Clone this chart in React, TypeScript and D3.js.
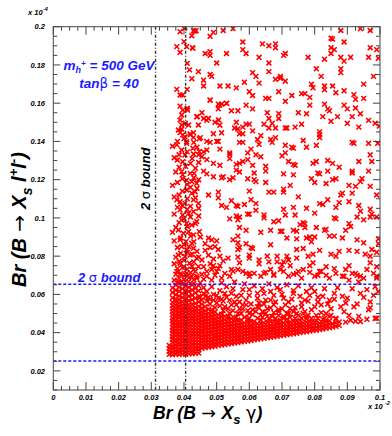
import React from 'react';
import * as d3 from 'd3';

// all values in units of 1e-3 of the printed axis numbers
const xTickValues = [0, 10, 20, 30, 40, 50, 60, 70, 80, 90, 100];
const xTickLabels = ['0', '0.01', '0.02', '0.03', '0.04', '0.05', '0.06', '0.07', '0.08', '0.09', '0.1'];
const yTickValues = [20, 40, 60, 80, 100, 120, 140, 160, 180, 200];
const yTickLabels = ['0.02', '0.04', '0.06', '0.08', '0.1', '0.12', '0.14', '0.16', '0.18', '0.2'];

// 2 sigma bounds
const boundX = [31.3, 40.5];
const boundY = [25.2, 65.3];

// left column above the dense block
const leftUpper: [number, number][] = [
  [38.8, 197.4], [40.1, 199.1], [42.9, 197.9], [43.7, 197.9], [40, 192.2], [37.8, 189.6], [38.8, 186.6],
  [40.8, 189.6], [42.7, 188.7], [41, 180.8], [41.7, 177.4], [42.4, 172.8], [44.4, 176.5], [37.8, 167.2],
  [38.8, 164.3], [39.6, 164.3], [41, 167.2], [38.8, 158.5], [39.6, 156.4], [41, 157.3], [39.3, 153.8],
  [38.8, 151.2], [39.3, 148.6], [41.4, 148.6], [44.1, 153], [44.4, 148.6], [38.3, 146], [39.6, 143.4],
  [40.3, 142.5], [41.9, 143.4], [42.9, 142.1], [40.8, 139], [44.7, 141.3], [40.4, 149.5], [39.3, 146.5],
  [41.1, 156.4], [43.9, 152.9], [42.6, 189], [42.4, 195.3], [43.2, 197.7], [40.3, 199.7],
];

const leftMid: [number, number][] = [
  [38.8, 144.6], [39.6, 143.4], [41.9, 143.9], [42.9, 144.6], [40.8, 139.9], [37.8, 138.2], [39.3, 135.5],
  [42.7, 136.4], [40.3, 132.9], [38, 130.3], [39.6, 129.4], [42.9, 133.4], [44.7, 134.7], [39.3, 124.2],
  [39.6, 122.5], [41.9, 123.3], [43.1, 123.3], [40.8, 119.8], [42.4, 119], [43.9, 118.1], [40.8, 114.6],
  [42.4, 112.9], [43.4, 113.7], [37.8, 109.4], [38.8, 108.5], [40.3, 107.6], [42.9, 109.4], [44.4, 107.6],
  [38.8, 104.2], [39.6, 101.5], [41.4, 102.4], [42.9, 103.3], [39.3, 98.9], [40.8, 97.2], [42.4, 96.3],
  [43.9, 98.1], [38.3, 93.7], [39.8, 92], [41.4, 92.8], [42.9, 91.1], [44.7, 92.8], [38.8, 88.5],
  [40.6, 87.6], [42.4, 86.7], [39.3, 85], [40.8, 83.2], [42.9, 84.1], [38.3, 80.6], [40.3, 79.8],
  [41.9, 80.6], [43.9, 78.9], [38.8, 76.3], [40, 74.5], [41.7, 76.3], [42.9, 72.8], [44.4, 74.5],
  [37.8, 71.9], [39.3, 70.2], [40.8, 71], [42.4, 69.3], [43.9, 68.4], [38.3, 66.7], [39.8, 65.8],
  [41.4, 66.7], [42.9, 65.5],
  [37, 67.5], [38.5, 68.5], [40, 67.8], [41.5, 68.7], [43, 67.6], [44, 69.5], [37.5, 70.5], [39, 71],
  [40.5, 70.2], [42, 71.4], [43.5, 72], [38, 73.5], [39.5, 74], [41, 73.2], [42.5, 74.6], [37, 76],
  [38.5, 77.2], [40, 77.8], [43, 77], [44.5, 79.5], [37.5, 79.5], [39, 81.5], [41, 82], [42.5, 81],
  [44, 82.5], [38, 84.5], [40, 86], [41.5, 85], [43, 87.5], [37, 88], [39, 89.5], [42, 90.5],
  [36.5, 92.5], [37.5, 95], [38.5, 97.5], [40, 99.5], [41, 95.5], [42, 100.5], [43.5, 97], [44.5, 101],
  [37, 102], [38, 105.5], [39.5, 106.5], [41, 104.5], [42, 106], [43.5, 110.5], [44.5, 105], [37, 111],
  [38.5, 112], [39.5, 114], [41, 110], [42, 116], [44, 115.5], [36.5, 117], [38, 118.5], [39.5, 120.5],
  [41, 117.5], [43, 121], [44.5, 120], [37.5, 124], [38.5, 126.5], [40.5, 127], [42, 128.5], [43.5, 126],
  [44.5, 129], [37, 131.5], [38.5, 133], [41, 134.5], [42.5, 131], [44, 137], [36.5, 137.5], [38, 140],
  [40, 141.5], [43, 139.5],
];

const upperScatter: [number, number][] = [
  [48, 195], [49, 197], [52, 198], [55, 199], [58, 192], [58, 188], [59, 186], [46.5, 186], [48, 187],
  [48, 185], [53, 186], [50, 181], [64, 191], [66, 190], [68, 191], [68, 189], [63, 184], [66, 181],
  [70.5, 185], [71, 186], [78, 184], [85, 194], [85.5, 193.5], [89, 192], [88, 198], [94, 199], [97, 198],
  [85, 189], [86, 188], [85, 186], [83, 183], [88, 184], [89, 182], [91, 184], [96.5, 184], [97, 189],
  [99, 188], [99.5, 183.5], [80.5, 178], [82, 174], [88, 178], [88, 176], [98, 174], [95, 170], [48, 175],
  [48.5, 174], [46, 172], [46, 169], [51, 169], [53.5, 169], [56, 168], [58.5, 171], [61, 176], [62, 174],
  [63, 170.5], [66, 176.5], [68, 172.5], [69.5, 174], [69.5, 173], [71, 171.5], [60, 166], [61, 164],
  [65, 162.5], [66, 162.5], [69, 166], [71, 161], [73, 164], [76, 165], [77, 165], [79, 170], [79.5, 168],
  [78.5, 163], [83, 169], [83, 167], [85.5, 169], [86.5, 165.5], [89, 166.5], [92, 164.5], [92.5, 162],
  [95, 162.5], [48, 161.5], [50.5, 159.5], [51.5, 159.5], [53, 160], [50.5, 157], [54.5, 156], [56.5, 156],
  [59, 159], [61, 157], [65.5, 155], [66, 152], [69, 154.5], [69, 152], [75, 155], [77.5, 154.5], [78.5, 159],
  [83, 159.5], [84, 157], [84.5, 156], [87, 153], [82.5, 153], [85, 150.5], [89, 159], [90, 157], [92.5, 157.5],
  [94, 154.5], [91.5, 153], [90, 149.5], [96.5, 151], [98.5, 149.5], [99.8, 148], [93.5, 147.5], [45.5, 155],
  [46, 152], [47.5, 152], [47, 151], [49.5, 150], [51, 148.5], [56, 150], [59, 149], [60, 149], [55.5, 147],
  [56.5, 146.5], [58, 147.5], [57, 144], [58, 144], [61, 145.5], [64.5, 149], [67, 149.5], [66, 147], [68, 147],
  [71, 147], [71.5, 147], [74, 147.5], [76, 149], [49, 144], [51.5, 144.5], [47, 140], [48, 139.5], [50, 140],
  [50.5, 140], [57, 139.5], [58, 139.5], [63.5, 143], [62.5, 141], [63, 138.5], [66.5, 141], [67, 139.5],
  [68, 142], [60.5, 136], [51, 136], [71, 138], [73, 137], [73.5, 136.5], [76.5, 140.5], [77.5, 137],
  [80.5, 138], [81.5, 145], [81.5, 143.5], [81.5, 142], [91.5, 139.5], [92, 139], [96.5, 139], [99.3, 139],
  [45, 142], [47.5, 152.1], [50.6, 151.2], [50.9, 159], [51.6, 159.6], [53.1, 159.9], [48, 161.7],
];

const midScatter: [number, number][] = [
  [46, 134.5], [47, 135.5], [44.5, 133], [45.5, 132], [47, 130.5], [49, 128.5], [51, 127.5], [54, 134],
  [54, 133], [54, 131], [56, 128], [57, 128.5], [58, 129.5], [59.5, 130.5], [59.5, 134], [61, 127.5],
  [62, 133], [63.5, 132], [65, 127], [65, 124.5], [70, 132.5], [71, 134], [72, 129.5], [73.5, 128],
  [74, 127.5], [79.5, 128.5], [80.5, 129.5], [84, 130], [85.5, 128.5], [87.5, 126.5], [84, 124.5],
  [81, 123.5], [91.5, 124.5], [91.5, 123.5], [93.5, 129.5], [97, 133], [97.5, 129.5], [96.5, 124.5],
  [46, 124.5], [47, 123], [49, 121.5], [51.5, 121], [52, 121.5], [54, 120], [55, 121], [56, 125], [57, 124],
  [59.5, 120.5], [61.5, 120], [62, 119], [61.5, 123.5], [65, 118.5], [66, 113.5], [67.5, 113.5], [70.5, 123],
  [70.5, 115], [70.5, 113.5], [73.5, 122.5], [72.5, 117], [75, 111], [79, 120.5], [80, 118.5], [81.5, 123],
  [83.5, 118], [85.5, 120], [86.5, 120.5], [88.5, 113], [88, 112], [90.5, 117], [91.5, 113], [92.5, 116.5],
  [94, 119], [94.5, 120.5], [97, 116.5], [99, 112],
  [47.5, 112], [50.5, 113.5], [50.5, 110.5], [54.5, 109], [51.5, 106.5], [53, 105.5], [56, 106.5], [56.5, 106],
  [58.5, 107], [60, 114], [60.5, 109.5], [62, 107.5], [56, 101], [57, 100.5], [56.5, 99], [59.5, 102], [60, 102],
  [62, 104], [64.5, 101.5], [64.5, 100], [69, 98.5], [70.5, 104.5], [71, 101.5], [73.5, 105.5], [74, 101.5],
  [77.5, 105], [80, 102.5], [81.5, 107.5], [82.5, 107], [84, 109.5], [86.5, 105.5], [87.5, 108], [90.5, 108.5],
  [93.5, 106.5], [94, 103.5], [97, 104.5], [97, 100.5], [97.5, 102], [99, 100.5], [86, 100], [86.5, 99.5],
  [90.5, 97], [91, 95.5], [93, 100.5], [95, 99], [76.5, 97.5], [77, 95], [75.5, 96.5], [77, 97], [80.5, 95],
  [83.5, 94], [80, 90], [77.5, 89.5], [73.5, 93.5], [74.5, 93], [67.5, 98], [69.5, 93], [70, 93], [66.5, 93.5],
  [63.5, 92.5], [57, 95], [59, 93.5], [54, 99.5],
  [47.5, 89.5], [48.5, 88.5], [50, 88], [45, 90], [46.5, 86.5], [48, 84.5], [50.5, 83.5], [49.5, 85], [55, 88.5],
  [56.5, 90.5], [56.5, 87], [56.5, 83.5], [57, 84.5], [59, 86.5], [60.5, 84.5], [61, 84], [60, 80.5], [66.5, 86],
  [71.5, 89.5], [74.5, 89], [78.5, 90], [79, 87.5], [83, 93.5], [84.5, 90.5], [86, 90.5], [88.5, 89.5],
  [89.5, 93.5], [93, 88.5], [95, 87], [99.5, 89], [99.5, 86.5], [97.5, 83.5], [99, 82], [97, 80], [95.5, 81],
  [93, 82.5], [90.5, 83], [87.5, 82.5], [86.5, 80], [85, 81], [81.5, 83], [79.5, 81], [78, 80], [76.5, 84],
  [74.5, 83.5], [74.5, 79], [71.5, 80], [72, 78], [70.5, 77], [68.5, 80], [68.5, 77], [65.5, 80], [66, 77],
  [63, 78], [63, 76], [60, 79], [56.5, 79.5], [57, 76.5], [53.5, 79], [52, 77.5], [51, 75], [49, 75], [48.5, 73],
  [50, 72], [54.5, 73], [56.5, 73], [59, 71], [60, 69.5], [61.5, 71], [64.5, 71], [66.5, 73], [67.5, 70.5],
  [69.5, 73], [70, 75.5], [72.5, 75], [73.5, 70.5], [75, 72], [76.5, 73], [78.5, 75], [79.5, 76.5], [81, 70],
  [82, 72], [83.5, 74.5], [86, 73.5], [88.5, 69.5], [89.5, 73], [90.5, 75], [92.5, 71], [94, 69.5], [96, 73],
  [97, 76.5], [99, 74.5], [99, 69.5], [47, 69.5], [54, 69.5],
];

const lowScatter: [number, number][] = [
  [55, 72], [58, 72], [60, 71], [63.5, 69.5], [65, 71.5], [67.5, 70], [70.5, 72], [72, 69.5], [74.5, 71],
  [76, 68.5], [78.5, 71.5], [80, 69.5], [81.5, 72], [83.5, 70], [84.5, 68.5], [86.5, 71], [89, 69.5],
  [90.5, 67.5], [91.5, 71], [93, 70], [95, 68.5], [98, 71], [99, 68.5], [93.5, 66.5],
  [54.5, 60.5], [56, 59], [57.5, 59.5], [59, 57], [60, 62.5], [62.5, 58], [64.5, 60.5], [66.5, 57], [67.5, 59.5],
  [69.5, 62.5], [70.5, 58], [72, 56], [73.5, 60.5], [75.5, 59], [77, 57], [78.5, 59.5], [80, 61.5], [81, 56],
  [82.5, 59], [84.5, 57], [86, 60.5], [88.5, 59], [89.5, 55.5], [94, 60.5], [96, 62.5], [98, 59.5], [99.5, 61.5],
  [97, 56],
  [56, 54.5], [58, 52.5], [60, 50], [62.5, 53.5], [64, 51], [65.5, 48.5], [67.5, 54.5], [69, 51], [70.5, 48.5],
  [72.5, 52.5], [74.5, 50], [76, 53.5], [77.5, 48.5], [79, 52], [80.5, 49], [82, 54.5], [83.5, 50], [85, 52.5],
  [86.5, 47.5], [89, 51], [90.5, 49], [92, 53.5], [93.5, 48.5], [96.5, 52], [99, 47.5],
  [45.5, 57], [46.5, 59], [47, 61.5], [46, 63.5], [48, 57.5], [49, 60], [48.5, 64], [50, 55.5], [50.5, 58],
  [51, 62], [52, 56.5], [52.5, 60.5], [53, 64], [51.5, 66], [53.5, 52.5], [54, 57], [55, 63], [55.5, 66.5],
  [56.5, 50], [57, 56], [58, 62.5], [58.5, 65.5], [59, 54.5], [60, 59.5], [61, 52], [61.5, 64.5], [62.5, 60.5],
  [63, 55.5], [63.5, 49], [64, 63], [65, 57], [65.5, 52.5], [66, 65.5], [66.5, 61.5], [67, 48.5], [68, 56],
  [68.5, 63.5], [69, 52], [70, 60], [71, 54.5], [71.5, 65], [72, 50], [73, 57.5], [73.5, 62], [74, 53],
  [75, 64.5], [76, 55.5], [76.5, 50], [77.5, 61.5], [78, 56.5], [79, 63.5], [80, 53.5], [81, 58.5], [82, 50.5],
  [83, 63], [84, 55], [85, 49], [86, 57.5], [87, 63.5], [88, 53.5], [90, 58], [91.5, 63], [93, 55], [95, 58.5],
  [97, 53], [98.5, 64],
  [45, 66], [46, 68], [45.5, 70.5], [47, 72], [46, 74.5], [48, 76], [45.5, 78], [47.5, 80.5], [46.5, 83],
  [48.5, 67.5], [49.5, 70], [50.5, 73.5], [49, 78.5], [51.5, 68.5], [52.5, 71], [51, 80],
  [89.5, 45.5], [91, 46.5], [92.5, 46], [94, 45.8], [96, 47], [98.5, 47.5],
];

// ragged points just above the solid band
const bandFringe: [number, number][] = [
  [45, 58.5], [46, 60.5], [47, 56.5], [47.5, 58.5], [48, 55], [49, 57], [49.5, 53], [50, 59.5], [51, 54],
  [51.5, 57.5], [52, 51.5], [52.5, 53.5], [53, 58.5], [54, 50], [54.5, 54.5], [55, 51.5], [55.5, 56], [56, 48],
  [57, 52.5], [57.5, 50], [58, 54.5], [58.5, 48], [59.5, 51.5], [60, 47.5], [60.5, 55], [61, 49.5], [62, 51],
  [62.5, 47.5], [63, 53], [64, 48], [64.5, 55], [65, 50], [66, 47.5], [66.5, 53], [67.5, 50.5], [68, 47.5],
  [69, 49], [70, 52.5], [70.5, 47.5], [71.5, 50], [72.5, 48], [73.5, 51], [74, 47.5], [75, 49], [76, 47.5],
  [77, 51], [78, 49], [79, 47.5], [81, 47.5], [83, 47.5], [84.5, 48.5],
];

// dense block under the vertical bound: [x, y values]
const leftBlock: [number, number[]][] = [
  [35.5, [28.6, 30.2, 31.8, 33.3]],
  [36.5, [28.4, 30, 31.7, 33.2, 34.9, 36.5, 38, 39.7, 41.3, 42.8, 44.5, 46.1, 47.6, 49.3, 50.9, 52.4, 54.1, 55.8, 58.2, 61, 63.4]],
  [37.5, [28.7, 30.3, 31.9, 33.5, 35.1, 36.6, 38.3, 39.9, 41.4, 43.1, 44.7, 46.3, 47.9, 49.4, 51.1, 52.7, 54.3, 56, 57.6, 59.8, 62.2, 64.9]],
  [38.5, [28.5, 30.1, 31.6, 33.3, 34.8, 36.4, 38.1, 39.6, 41.2, 42.9, 44.4, 46, 47.7, 49.2, 50.8, 52.5, 54, 55.6, 57.3, 59.1, 61.6, 63.8, 66]],
  [39.5, [28.8, 30.4, 32, 33.6, 35.2, 36.8, 38.4, 40, 41.6, 43.2, 44.8, 46.4, 48, 49.6, 51.2, 52.8, 54.4, 56.2, 58.4, 60.5, 62.9, 65.3]],
  [40.5, [28.6, 30.1, 31.8, 33.4, 35, 36.5, 38.2, 39.8, 41.3, 43, 44.6, 46.1, 47.8, 49.3, 51, 52.6, 54.2, 55.9, 57.9, 60.1, 62, 64.4]],
  [41.5, [28.9, 30.5, 32.1, 33.7, 35.3, 36.9, 38.5, 40.1, 41.7, 43.3, 44.9, 46.5, 48.1, 49.7, 51.3, 52.9, 54.6, 56.7, 59, 61.5, 63.7]],
  [42.5, [29, 30.6, 32.2, 33.8, 35.4, 37, 38.6, 40.2, 41.8, 43.4, 45, 46.6, 48.2, 49.8, 51.4, 53, 54.8, 57.2, 59.6, 62.3, 65]],
  [43.5, [29.2, 30.8, 32.4, 34, 35.6, 37.2, 38.8, 40.4, 42, 43.6, 45.2, 46.8, 48.4, 50, 51.6, 53.3, 55.3, 58, 60.8, 63.2]],
  [44.5, [29.3, 30.9, 32.5, 34.1, 35.7, 37.3, 38.9, 40.5, 42.1, 43.7, 45.3, 46.9, 48.5, 50.1, 51.8, 53.7, 56.1, 58.8, 61.9, 64.6]],
];

// dense lower band: [x, y values]
const bandColumns: [number, number[]][] = [
  [45.5, [31.8, 33.4, 35, 36.6, 38.2, 39.8, 41.4, 43, 44.6, 46.2, 47.8, 49.4, 51, 52.8, 54.9]],
  [46.5, [32.1, 33.7, 35.3, 36.9, 38.5, 40.1, 41.7, 43.3, 44.9, 46.5, 48.1, 49.7, 51.4, 53.6]],
  [47.5, [32.4, 34, 35.6, 37.2, 38.8, 40.4, 42, 43.6, 45.2, 46.8, 48.4, 50.1, 52.2]],
  [48.5, [32.6, 34.2, 35.8, 37.4, 39, 40.6, 42.2, 43.8, 45.4, 47, 48.6, 50.4, 51.9]],
  [49.5, [32.9, 34.5, 36.1, 37.7, 39.3, 40.9, 42.5, 44.1, 45.7, 47.3, 49, 50.8]],
  [50.5, [33.2, 34.8, 36.4, 38, 39.6, 41.2, 42.8, 44.4, 46, 47.6, 49.3]],
  [51.5, [33.5, 35.1, 36.7, 38.3, 39.9, 41.5, 43.1, 44.7, 46.3, 48, 49.6]],
  [52.5, [33.8, 35.4, 37, 38.6, 40.2, 41.8, 43.4, 45, 46.7, 48.6]],
  [53.5, [34, 35.6, 37.2, 38.8, 40.4, 42, 43.6, 45.2, 46.9, 48.3]],
  [54.5, [34.3, 35.9, 37.5, 39.1, 40.7, 42.3, 43.9, 45.5, 47.3]],
  [55.5, [34.6, 36.2, 37.8, 39.4, 41, 42.6, 44.2, 45.9, 47.6]],
  [56.5, [34.8, 36.4, 38, 39.6, 41.2, 42.8, 44.4, 46.2]],
  [57.5, [35.1, 36.7, 38.3, 39.9, 41.5, 43.1, 44.8, 46.6]],
  [58.5, [35.4, 37, 38.6, 40.2, 41.8, 43.4, 45.1]],
  [59.5, [35.6, 37.2, 38.8, 40.4, 42, 43.6, 45.3, 46.9]],
  [60.5, [35.9, 37.5, 39.1, 40.7, 42.3, 43.9, 45.6]],
  [61.5, [36.2, 37.8, 39.4, 41, 42.6, 44.3, 45.9]],
  [62.5, [36.5, 38.1, 39.7, 41.3, 42.9, 44.6]],
  [63.5, [36.7, 38.3, 39.9, 41.5, 43.1, 44.8, 46.4]],
  [64.5, [37, 38.6, 40.2, 41.8, 43.4, 45.1]],
  [65.5, [37.3, 38.9, 40.5, 42.1, 43.7, 45.4]],
  [66.5, [37.5, 39.1, 40.7, 42.3, 43.9, 45.6]],
  [67.5, [37.8, 39.4, 41, 42.6, 44.2, 45.9]],
  [68.5, [38.1, 39.7, 41.3, 42.9, 44.5, 46.1]],
  [69.5, [38.4, 40, 41.6, 43.2, 44.8, 46.5]],
  [70.5, [38.6, 40.2, 41.8, 43.4, 45.1]],
  [71.5, [38.9, 40.5, 42.1, 43.7, 45.4, 47]],
  [72.5, [39.2, 40.8, 42.4, 44, 45.6]],
  [73.5, [39.4, 41, 42.6, 44.2, 45.9]],
  [74.5, [39.7, 41.3, 42.9, 44.5, 46.2]],
  [75.5, [40, 41.6, 43.2, 44.8, 46.5]],
  [76.5, [40.3, 41.9, 43.5, 45.1]],
  [77.5, [40.5, 42.1, 43.7, 45.4, 47.2]],
  [78.5, [40.8, 42.4, 44, 45.7]],
  [79.5, [41.1, 42.7, 44.3, 46]],
  [80.5, [41.3, 42.9, 44.6, 46.3]],
  [81.5, [41.6, 43.2, 44.9]],
  [82.5, [41.9, 43.5, 45.2, 46.9]],
  [83.5, [42.2, 43.8, 45.5]],
  [84.5, [42.6, 44.4, 46.1]],
  [85.5, [42.9, 44.6]],
  [86.5, [43.3, 45.2, 47]],
  [87.5, [43.8, 45.6]],
];

const font = "'Liberation Sans', Arial, Helvetica, sans-serif";
const sym = "'DejaVu Sans', sans-serif";

export default function App() {
  const x = d3.scaleLinear().domain([0, 100]).range([53.3, 380]);
  const y = d3.scaleLinear().domain([10, 200]).range([390, 26.7]);
  const [xl, xr] = x.range();
  const [yb, yt] = y.range();

  const columnPoints = [...leftBlock, ...bandColumns].flatMap(([cx, ys]) => ys.map((v) => [cx, v] as [number, number]));
  const points = [...leftUpper, ...leftMid, ...upperScatter, ...midScatter, ...lowScatter, ...bandFringe, ...columnPoints];
  const s = 2.4;
  const markers = points
    .map(([a, b]) => {
      const px = x(a), py = y(b);
      return `M${(px - s).toFixed(1)},${(py - s).toFixed(1)}L${(px + s).toFixed(1)},${(py + s).toFixed(1)}M${(px - s).toFixed(1)},${(py + s).toFixed(1)}L${(px + s).toFixed(1)},${(py - s).toFixed(1)}`;
    })
    .join('');

  const xMinor = d3.range(0, 100.01, 2.5).filter((v) => v % 10 !== 0);
  const yMinor = d3.range(10, 200.01, 5).filter((v) => v % 20 !== 0);

  const tickStyle = { stroke: '#444', strokeWidth: 1 };
  const lab = { fontFamily: font, fontSize: 7.5, fontWeight: 700, fontStyle: 'italic' as const };

  return (
    <svg width={392} height={436} style={{ position: 'absolute', left: 0, top: 0, background: '#fff' }}>
      <defs>
        <clipPath id="frame">
          <rect x={xl} y={yt} width={xr - xl} height={yb - yt} />
        </clipPath>
      </defs>

      <path d={markers} clipPath="url(#frame)" fill="none" stroke="#ff0000" strokeWidth={1.6} />

      {/* bounds */}
      {boundX.map((b) => (
        <line key={'bx' + b} x1={x(b)} x2={x(b)} y1={yt} y2={yb} stroke="#333" strokeWidth={1.4} strokeDasharray="3,2,1,2" />
      ))}
      {boundY.map((b) => (
        <line key={'by' + b} x1={xl} x2={xr} y1={y(b)} y2={y(b)} stroke="#1a1aff" strokeWidth={1.5} strokeDasharray="3,2" />
      ))}

      {/* frame */}
      <rect x={xl} y={yt} width={xr - xl} height={yb - yt} fill="none" stroke="#444" strokeWidth={1} />

      {/* ticks */}
      {xTickValues.map((v) => (
        <g key={'xt' + v}>
          <line x1={x(v)} x2={x(v)} y1={yb} y2={yb - 8} {...tickStyle} />
          <line x1={x(v)} x2={x(v)} y1={yt} y2={yt + 8} {...tickStyle} />
        </g>
      ))}
      {xMinor.map((v) => (
        <g key={'xm' + v}>
          <line x1={x(v)} x2={x(v)} y1={yb} y2={yb - 4} {...tickStyle} />
          <line x1={x(v)} x2={x(v)} y1={yt} y2={yt + 4} {...tickStyle} />
        </g>
      ))}
      {yTickValues.map((v) => (
        <g key={'yt' + v}>
          <line x1={xl} x2={xl + 7} y1={y(v)} y2={y(v)} {...tickStyle} />
          <line x1={xr} x2={xr - 7} y1={y(v)} y2={y(v)} {...tickStyle} />
        </g>
      ))}
      {yMinor.map((v) => (
        <g key={'ym' + v}>
          <line x1={xl} x2={xl + 4} y1={y(v)} y2={y(v)} {...tickStyle} />
          <line x1={xr} x2={xr - 4} y1={y(v)} y2={y(v)} {...tickStyle} />
        </g>
      ))}

      {/* tick labels */}
      {xTickValues.map((v, i) => (
        <text key={'xl' + v} x={x(v)} y={399.5} textAnchor="middle" {...lab}>
          {xTickLabels[i]}
        </text>
      ))}
      {yTickValues.map((v, i) => (
        <text key={'yl' + v} x={45} y={y(v) + 2.7} textAnchor="end" {...lab}>
          {yTickLabels[i]}
        </text>
      ))}
      <text x={28} y={15} {...lab}>x 10</text>
      <text x={43} y={11} {...lab} fontSize={5.5}>-4</text>
      <text x={368} y={409} {...lab}>x 10</text>
      <text x={385} y={405} {...lab} fontSize={5.5}>-2</text>

      {/* axis titles */}
      <text x={153} y={419} fontFamily={font} fontSize={17.5} fontWeight={700} fontStyle="italic">
        Br (B
        <tspan fontFamily={sym} fontStyle="normal" fontWeight={400}> → </tspan>
        X<tspan fontSize={13} dy={5}>s</tspan>
        <tspan dy={-5} fontFamily={sym} fontStyle="normal" fontWeight={400}> γ</tspan>)
      </text>
      <text transform="translate(26,287) rotate(-90)" fontFamily={font} fontSize={20} fontWeight={700} fontStyle="italic">
        Br (B
        <tspan fontFamily={sym} fontStyle="normal" fontWeight={400}> → </tspan>
        X<tspan fontSize={14} dy={6}>s</tspan>
        <tspan dy={-6}> l</tspan>
        <tspan fontSize={13} dy={-8}>+</tspan>
        <tspan dy={8}>l</tspan>
        <tspan fontSize={13} dy={-8}>-</tspan>
        <tspan dy={8}>)</tspan>
      </text>

      {/* annotations */}
      <text transform="translate(150,210) rotate(-90)" fontFamily={font} fontSize={13} fontWeight={700} fontStyle="italic" fill="#000">
        2 <tspan fontFamily={sym} fontStyle="normal" fontWeight={400}>σ</tspan> bound
      </text>
      <text x={78} y={282} fontFamily={font} fontSize={13} fontWeight={700} fontStyle="italic" fill="#1a1aff">
        2 <tspan fontFamily={sym} fontStyle="normal" fontWeight={400}>σ</tspan> bound
      </text>
      <text x={109} y={70} textAnchor="middle" fontFamily={font} fontSize={13.5} fontWeight={700} fontStyle="italic" fill="#1a1aff">
        m<tspan fontSize={9} dy={3}>h</tspan>
        <tspan fontSize={8} dy={-7}>+</tspan>
        <tspan dy={4}> = 500 GeV</tspan>
      </text>
      <text x={109} y={88} textAnchor="middle" fontFamily={font} fontSize={13.5} fontWeight={700} fontStyle="italic" fill="#1a1aff">
        tan<tspan fontFamily={sym} fontStyle="normal" fontWeight={400}>β</tspan> = 40
      </text>
    </svg>
  );
}
